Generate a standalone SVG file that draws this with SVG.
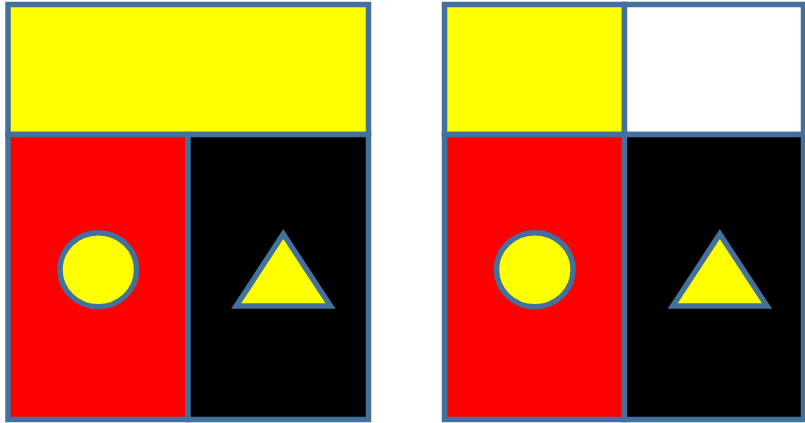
<svg xmlns="http://www.w3.org/2000/svg" width="805" height="423" viewBox="0 0 805 423">
<style>
.b{stroke:#41719c;stroke-width:5.5}
.y{fill:#ffff00}.r{fill:#ff0000}.k{fill:#000000}.w{fill:#ffffff}
</style>
<rect width="805" height="423" fill="#ffffff"/>
<g id="left-panel">
<rect id="left-top" class="b y" x="8" y="4.5" width="360.5" height="130"/>
<rect id="left-red" class="b r" x="8" y="134.5" width="180" height="285"/>
<rect id="left-black" class="b k" x="188" y="134.5" width="180.5" height="285"/>
<ellipse id="left-circle" class="b y" cx="98.3" cy="269.7" rx="38.3" ry="37"/>
<polygon id="left-triangle" class="b y" points="283.3,234 330.5,306 236.2,306"/>
</g>
<g id="right-panel">
<rect id="right-top-yellow" class="b y" x="444.5" y="4.5" width="180" height="130"/>
<rect id="right-top-white" class="b w" x="624.5" y="4.5" width="179" height="130"/>
<rect id="right-red" class="b r" x="444.5" y="134.5" width="180" height="285"/>
<rect id="right-black" class="b k" x="624.5" y="134.5" width="179" height="285"/>
<ellipse id="right-circle" class="b y" cx="534.8" cy="269.7" rx="38.3" ry="37"/>
<polygon id="right-triangle" class="b y" points="719.8,234 767,306 672.7,306"/>
</g>
<g id="connectors"/>
</svg>
